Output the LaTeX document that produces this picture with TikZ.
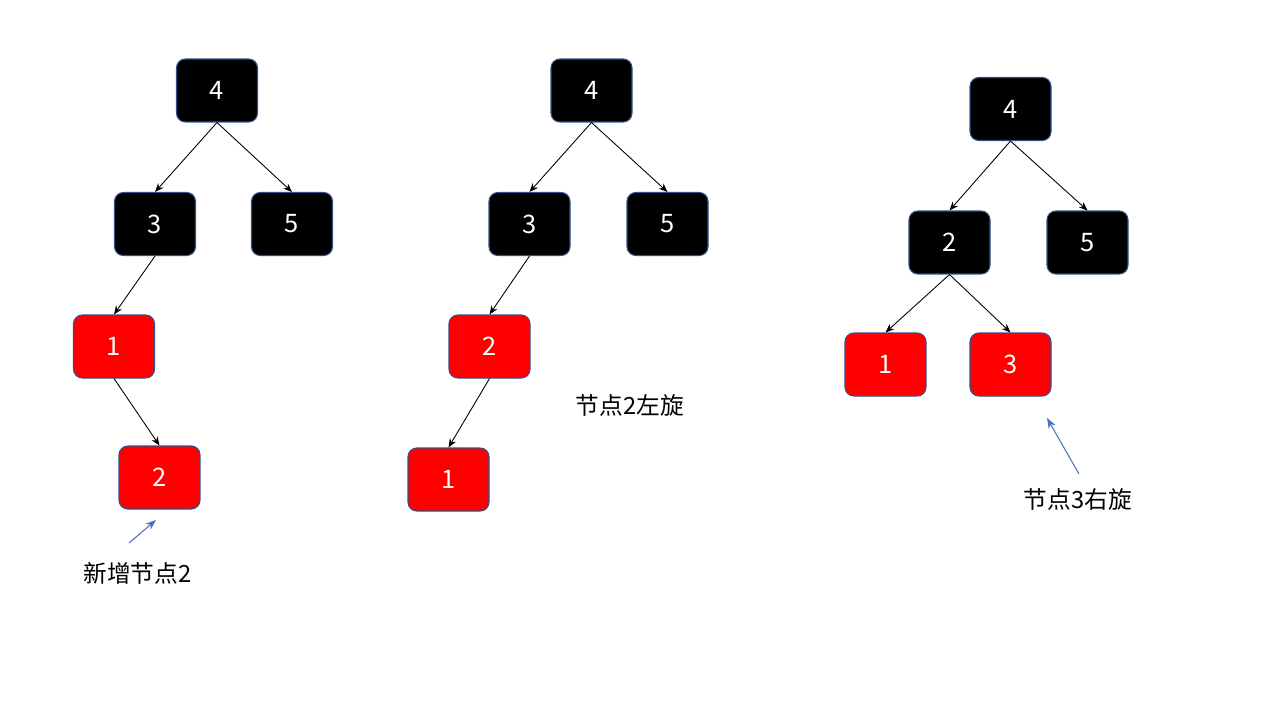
\documentclass[tikz,border=0pt]{standalone}
\usepackage{fontspec}
\setmainfont{Carlito}
\newfontfamily\cjk{Noto Sans CJK SC}
\usetikzlibrary{arrows.meta}
\definecolor{boxedge}{HTML}{2F528F}
\definecolor{pointer}{HTML}{4472C4}
\definecolor{redfill}{HTML}{FF0000}
\tikzset{
  tnode/.style={draw=boxedge, line width=0.6pt, rounded corners=5pt, minimum width=1.62cm, minimum height=1.26cm, inner sep=0pt, text=white, font=\cjk\fontsize{14.5}{16}\selectfont},
  blk/.style={tnode, fill=black},
  rd/.style={tnode, fill=redfill},
  edge/.style={-{Stealth[length=5pt,width=4pt]}, line width=0.5pt, black},
  ptr/.style={-{Stealth[length=6pt,width=4.5pt]}, line width=0.6pt, pointer},
  lbl/.style={font=\cjk\fontsize{13.5}{15}\selectfont, text=black, inner sep=0pt}
}
\begin{document}
\begin{tikzpicture}[x=0.02cm,y=-0.02cm]
\useasboundingbox (0,0) rectangle (1280,720);
% tree 1
\node[blk] (a4) at (217,90.5) {4};
\node[blk] (a3) at (155,224) {3};
\node[blk] (a5) at (292,224) {5};
\node[rd] (a1) at (114,346.5) {1};
\node[rd] (a2) at (159.5,477.5) {2};
\draw[edge] (a4.south) -- (a3.north);
\draw[edge] (a4.south) -- (a5.north);
\draw[edge] (a3.south) -- (a1.north);
\draw[edge] (a1.south) -- (a2.north);
\coordinate (p1s) at (129,543);
\coordinate (p1e) at (156,520);
\draw[ptr] (p1s) -- (p1e);
\node[lbl] (t1) at (137.5,573) {新增节点2};
% tree 2
\node[blk] (b4) at (591.5,90.5) {4};
\node[blk] (b3) at (529.5,224) {3};
\node[blk] (b5) at (667.5,224) {5};
\node[rd] (b2) at (489.5,346.5) {2};
\node[rd] (b1) at (448.5,479.5) {1};
\draw[edge] (b4.south) -- (b3.north);
\draw[edge] (b4.south) -- (b5.north);
\draw[edge] (b3.south) -- (b2.north);
\draw[edge] (b2.south) -- (b1.north);
\node[lbl] (t2) at (630,405) {节点2左旋};
% tree 3
\node[blk] (c4) at (1010.5,109) {4};
\node[blk] (c2) at (949.5,242.5) {2};
\node[blk] (c5) at (1087.5,242.5) {5};
\node[rd] (c1) at (885.5,364.5) {1};
\node[rd] (c3) at (1010.5,364.5) {3};
\draw[edge] (c4.south) -- (c2.north);
\draw[edge] (c4.south) -- (c5.north);
\draw[edge] (c2.south) -- (c1.north);
\draw[edge] (c2.south) -- (c3.north);
\coordinate (p3s) at (1079,474);
\coordinate (p3e) at (1047,418);
\draw[ptr] (p3s) -- (p3e);
\node[lbl] (t3) at (1078,499) {节点3右旋};
\end{tikzpicture}
\end{document}
